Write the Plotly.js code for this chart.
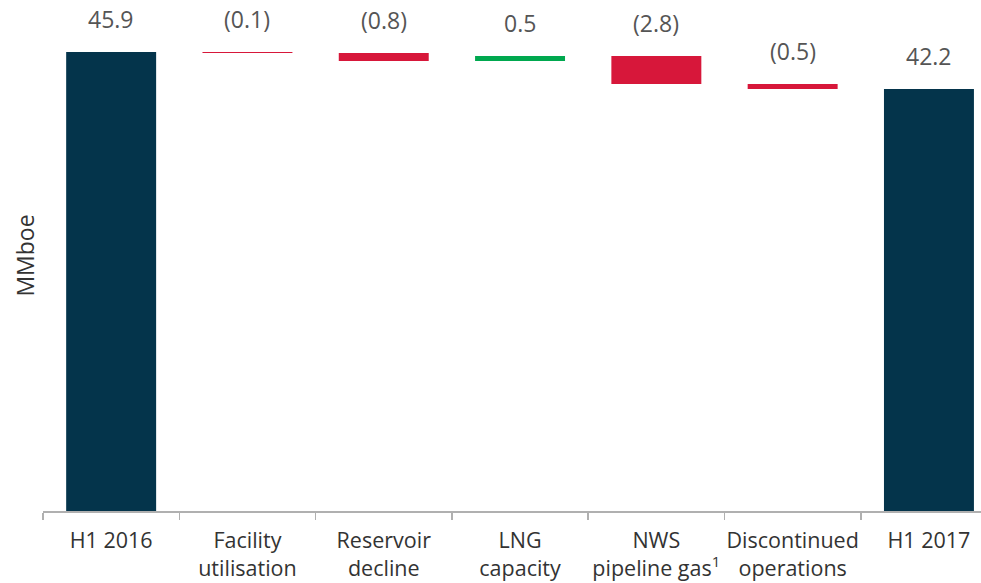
<!DOCTYPE html>
<html>
<head>
<meta charset="utf-8">
<script src="https://cdn.plot.ly/plotly-3.0.1.min.js"></script>
<style>html,body{margin:0;padding:0;background:#fff;}#chart{width:981px;height:583px;}</style>
</head>
<body>
<div id="chart"></div>
<script>
const categories = ["H1 2016", "Facility<br>utilisation", "Reservoir<br>decline", "LNG<br>capacity", "NWS<br>pipeline gas<sup>1</sup>", "Discontinued<br>operations", "H1 2017"];
const measures = ["absolute", "relative", "relative", "relative", "relative", "relative", "total"];
const values = [45.9, -0.1, -0.8, 0.5, -2.8, -0.5, 42.2];
const labels = ["45.9", "(0.1)", "(0.8)", "0.5", "(2.8)", "(0.5)", "42.2"];

// compute top of each bar for label placement
const tops = [];
let run = 0;
for (let i = 0; i < values.length; i++) {
  if (measures[i] === "absolute") { run = values[i]; tops.push(run); }
  else if (measures[i] === "total") { tops.push(run); }
  else { const prev = run; run = run + values[i]; tops.push(Math.max(prev, run)); }
}

const trace = {
  type: "waterfall",
  x: categories,
  y: values.map((v, i) => measures[i] === "total" ? 0 : v),
  measure: measures,
  width: 0.66,
  textinfo: "none",
  hoverinfo: "skip",
  connector: {visible: false},
  increasing: {marker: {color: "#00A84F", line: {width: 0}}},
  decreasing: {marker: {color: "#D7173A", line: {width: 0}}},
  totals: {marker: {color: "#04344B", line: {width: 0}}}
};

const annotations = labels.map((t, i) => ({
  x: categories[i], y: tops[i], xref: "x", yref: "y",
  text: t, showarrow: false, yanchor: "middle", yshift: 33,
  font: {family: "Open Sans, sans-serif", size: 23, color: "#555555"}
}));

const layout = {
  width: 981, height: 583,
  margin: {l: 43, r: 0, t: 0, b: 72},
  paper_bgcolor: "#ffffff", plot_bgcolor: "#ffffff",
  showlegend: false,
  font: {family: "Open Sans, sans-serif", size: 22, color: "#333333"},
  xaxis: {
    type: "category",
    range: [-0.5, -0.5 + 938 / 136.3],
    showline: true, linecolor: "#b0b0b0", linewidth: 1.5,
    ticks: "outside", tickson: "boundaries", ticklen: 7, tickcolor: "#b0b0b0", tickwidth: 1.5,
    tickangle: 0,
    ticklabelstandoff: 10,
    tickfont: {family: "Open Sans, sans-serif", size: 21.5, color: "#333333"},
    showgrid: false, zeroline: false, fixedrange: true
  },
  yaxis: {
    range: [0, 51.1],
    showline: false, showgrid: false, zeroline: false,
    showticklabels: false, ticks: "",
    title: {text: "MMboe", font: {family: "Open Sans, sans-serif", size: 23, color: "#333333"}, standoff: 0},
    fixedrange: true
  },
  annotations: annotations
};

Plotly.newPlot("chart", [trace], layout, {displayModeBar: false, staticPlot: true});
</script>
</body>
</html>
